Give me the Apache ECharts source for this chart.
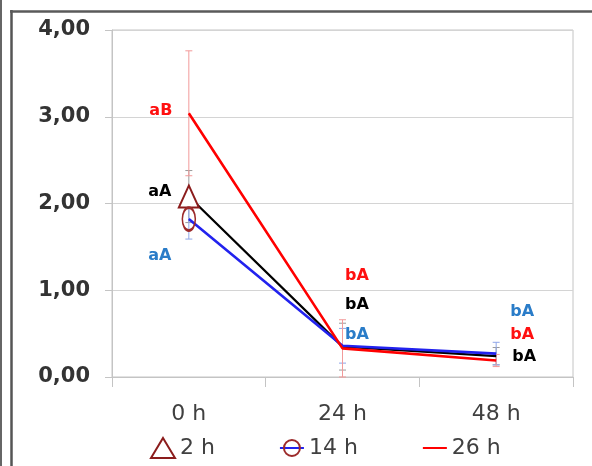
<!DOCTYPE html>
<html>
<head>
<meta charset="utf-8">
<script src="https://cdn.jsdelivr.net/npm/echarts@6/dist/echarts.min.js"></script>
<style>
  html, body { margin: 0; padding: 0; background: #fff; }
  #chart { width: 592px; height: 466px; }
</style>
</head>
<body>
<div id="chart"></div>
<script>
// Sampling times on the x axis and the three series (legend names)
const categories = ['0 h', '24 h', '48 h'];
const seriesNames = ['2 h', '14 h', '26 h'];

// Mean values per sampling time
const mean2h = [2.08, 0.35, 0.24];
const mean14h = [1.82, 0.36, 0.27];
const mean26h = [3.04, 0.33, 0.19];

// Error bar half-widths
const err2h = [0.30, 0.27, 0.10];
const err14h = [0.23, 0.20, 0.13];
const err26h = [0.72, 0.33, 0.07];

// Significance letters drawn beside each point
const letters2h = ['aA', 'bA', 'bA'];
const letters14h = ['aA', 'bA', 'bA'];
const letters26h = ['aB', 'bA', 'bA'];

// Y axis range and step
const yMin = 0;
const yMax = 4;
const yStep = 1;

const FONT = 'DejaVu Sans';

const styles = {
  '2 h': {
    line: '#000000', lineWidth: 2.2, err: '#9a9a9a', text: '#000000',
    symbol: 'triangle', symbolSize: [20, 22],
    item: { color: '#ffffff', borderColor: '#8b1c1c', borderWidth: 2 },
    offsets: [[-29, -5], [14.5, -41.5], [28, 1]]
  },
  '14 h': {
    line: '#2222ee', lineWidth: 2.6, err: '#8fa6e8', text: '#2a7cc8',
    symbol: 'circle', symbolSize: [13, 23],
    item: { color: 'rgba(255,255,255,0)', borderColor: '#9c2a2a', borderWidth: 2 },
    offsets: [[-29, 37], [14.5, -11], [26, -41.5]]
  },
  '26 h': {
    line: '#ff0000', lineWidth: 2.6, err: '#f29a9a', text: '#ff1010',
    symbol: 'none', symbolSize: 0,
    item: { color: 'rgba(0,0,0,0)' },
    offsets: [[-28, -2], [14.5, -73], [26, -25.5]]
  }
};

const groups = [
  { name: '2 h', mean: mean2h, err: err2h, letters: letters2h },
  { name: '14 h', mean: mean14h, err: err14h, letters: letters14h },
  { name: '26 h', mean: mean26h, err: err26h, letters: letters26h }
];

const series = [];

// Error bars (drawn under the lines)
groups.forEach(g => {
  const st = styles[g.name];
  series.push({
    type: 'custom',
    name: g.name + ' err',
    silent: true,
    z: 1,
    data: g.mean.map((m, i) => [i, m - g.err[i], m + g.err[i]]),
    renderItem: function (params, api) {
      const x = api.value(0);
      const lo = api.coord([x, api.value(1)]);
      const hi = api.coord([x, api.value(2)]);
      const half = 3.5;
      const s = { stroke: st.err, lineWidth: 1 };
      return {
        type: 'group',
        children: [
          { type: 'line', shape: { x1: hi[0], y1: hi[1], x2: lo[0], y2: lo[1] }, style: s },
          { type: 'line', shape: { x1: hi[0] - half, y1: hi[1], x2: hi[0] + half, y2: hi[1] }, style: s },
          { type: 'line', shape: { x1: lo[0] - half, y1: lo[1], x2: lo[0] + half, y2: lo[1] }, style: s }
        ]
      };
    }
  });
});

// Lines with a marker on the first sampling time
groups.forEach(g => {
  const st = styles[g.name];
  series.push({
    type: 'line',
    name: g.name,
    z: 3,
    symbol: st.symbol,
    symbolSize: st.symbolSize,
    lineStyle: { color: st.line, width: st.lineWidth },
    itemStyle: st.item,
    emphasis: { disabled: true },
    data: g.mean.map((m, i) => i === 0 ? { value: m } : { value: m, symbol: 'none' })
  });
});

// Significance letters
groups.forEach(g => {
  const st = styles[g.name];
  series.push({
    type: 'scatter',
    name: g.name + ' letters',
    silent: true,
    z: 5,
    symbolSize: 1,
    itemStyle: { color: 'rgba(0,0,0,0)', opacity: 1 },
    data: g.mean.map((m, i) => ({
      value: [i, m],
      label: {
        show: true,
        position: 'inside',
        offset: st.offsets[i],
        formatter: g.letters[i],
        color: st.text,
        opacity: 1,
        fontFamily: FONT,
        fontWeight: 'bold',
        fontSize: 16
      }
    }))
  });
});

const chart = echarts.init(document.getElementById('chart'), null, { renderer: 'canvas' });

chart.setOption({
  backgroundColor: '#ffffff',
  animation: false,
  grid: {
    left: 112, right: 19, top: 30, bottom: 89,
    show: true, borderColor: '#c4c4c4', borderWidth: 1
  },
  xAxis: {
    type: 'category',
    data: categories,
    boundaryGap: true,
    axisLine: { lineStyle: { color: '#c4c4c4', width: 1 } },
    axisTick: { show: true, length: 10, lineStyle: { color: '#c4c4c4' } },
    axisLabel: { margin: 26, fontFamily: FONT, fontSize: 22, color: '#404040' },
    splitLine: { show: false }
  },
  yAxis: {
    type: 'value',
    min: yMin, max: yMax, interval: yStep,
    axisLine: { show: true, lineStyle: { color: '#c4c4c4', width: 1 } },
    axisTick: { show: true, length: 7, lineStyle: { color: '#c4c4c4' } },
    axisLabel: {
      margin: 22, fontFamily: FONT, fontWeight: 'bold', fontSize: 21, color: '#333333',
      formatter: v => v.toFixed(2).replace('.', ',')
    },
    splitLine: { lineStyle: { color: '#d4d4d4', width: 1 } }
  },
  legend: {
    left: 145, top: 432,
    itemWidth: 24, itemHeight: 20, itemGap: 64,
    selectedMode: false,
    textStyle: { fontFamily: FONT, fontSize: 22, color: '#404040' },
    data: [
      { name: seriesNames[0], icon: 'triangle',
        itemStyle: { color: '#ffffff', borderColor: '#8b1c1c', borderWidth: 2 } },
      { name: seriesNames[1] },
      { name: seriesNames[2], itemStyle: { color: 'rgba(0,0,0,0)', borderWidth: 0 } }
    ]
  },
  graphic: [
    { type: 'line', shape: { x1: 1, y1: 0, x2: 1, y2: 466 }, style: { stroke: '#666', lineWidth: 2 } },
    { type: 'line', shape: { x1: 11.5, y1: 10, x2: 11.5, y2: 466 }, style: { stroke: '#555', lineWidth: 2.5 } },
    { type: 'line', shape: { x1: 10, y1: 11.5, x2: 592, y2: 11.5 }, style: { stroke: '#5a5a5a', lineWidth: 2.5 } }
  ],
  series: series
});
</script>
</body>
</html>
